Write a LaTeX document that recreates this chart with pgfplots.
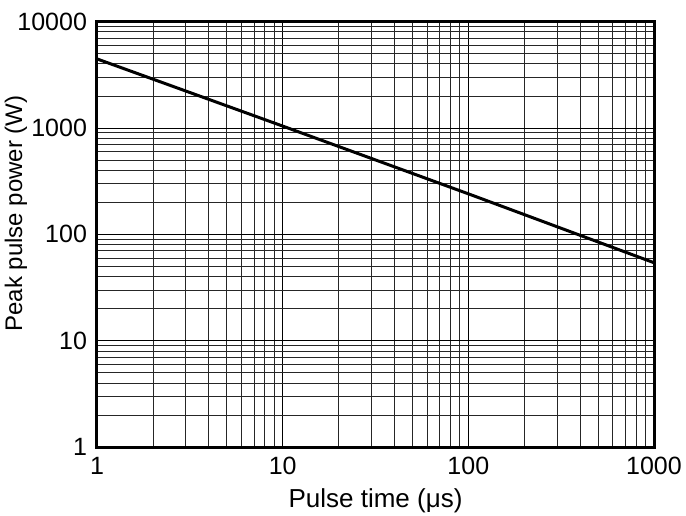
\documentclass[border=0pt]{standalone}
\usepackage{fontspec}
\setmainfont{Liberation Sans}
\usepackage{pgfplots}
\pgfplotsset{compat=1.18}

\begin{document}
\begin{tikzpicture}
\begin{axis}[
    xmode=log, ymode=log,
    xmin=1, xmax=1000,
    ymin=1, ymax=10000,
    width=278.5pt, height=212.75pt,
    scale only axis,
    xtick={1,10,100,1000},
    xticklabels={1,10,100,1000},
    ytick={1,10,100,1000,10000},
    yticklabels={1,10,100,1000,10000},
    minor xtick={2,3,4,5,6,7,8,9,20,30,40,50,60,70,80,90,200,300,400,500,600,700,800,900},
    minor ytick={2,3,4,5,6,7,8,9,20,30,40,50,60,70,80,90,200,300,400,500,600,700,800,900,2000,3000,4000,5000,6000,7000,8000,9000},
    grid=both,
    major grid style={black, line width=0.35pt},
    minor grid style={black!85, line width=0.35pt},
    axis line style={line width=1.5pt},
    major tick length=0pt, minor tick length=0pt,
    tick label style={font=\fontsize{12.5}{14}\selectfont},
    xticklabel style={yshift=-1.5pt},
    yticklabel style={xshift=-1.5pt},
    xlabel={Pulse time (μs)},
    ylabel={Peak pulse power (W)},
    every axis x label/.style={at={(rel axis cs:0.5,0)}, yshift=-27pt,
        anchor=center, font=\fontsize{13}{15}\selectfont},
    every axis y label/.style={at={(rel axis cs:0,0.549)}, xshift=-40.5pt,
        rotate=90, anchor=center, font=\fontsize{12}{14}\selectfont},
]
\addplot[black, line width=1.5pt] coordinates {
    (1,4450) (10,1040) (100,240) (1000,54)
};
\end{axis}
\pgfresetboundingbox
\path ([xshift=-48.5pt,yshift=-34pt]current axis.south west)
    rectangle ([xshift=16pt,yshift=10.75pt]current axis.north east);
\end{tikzpicture}
\end{document}
